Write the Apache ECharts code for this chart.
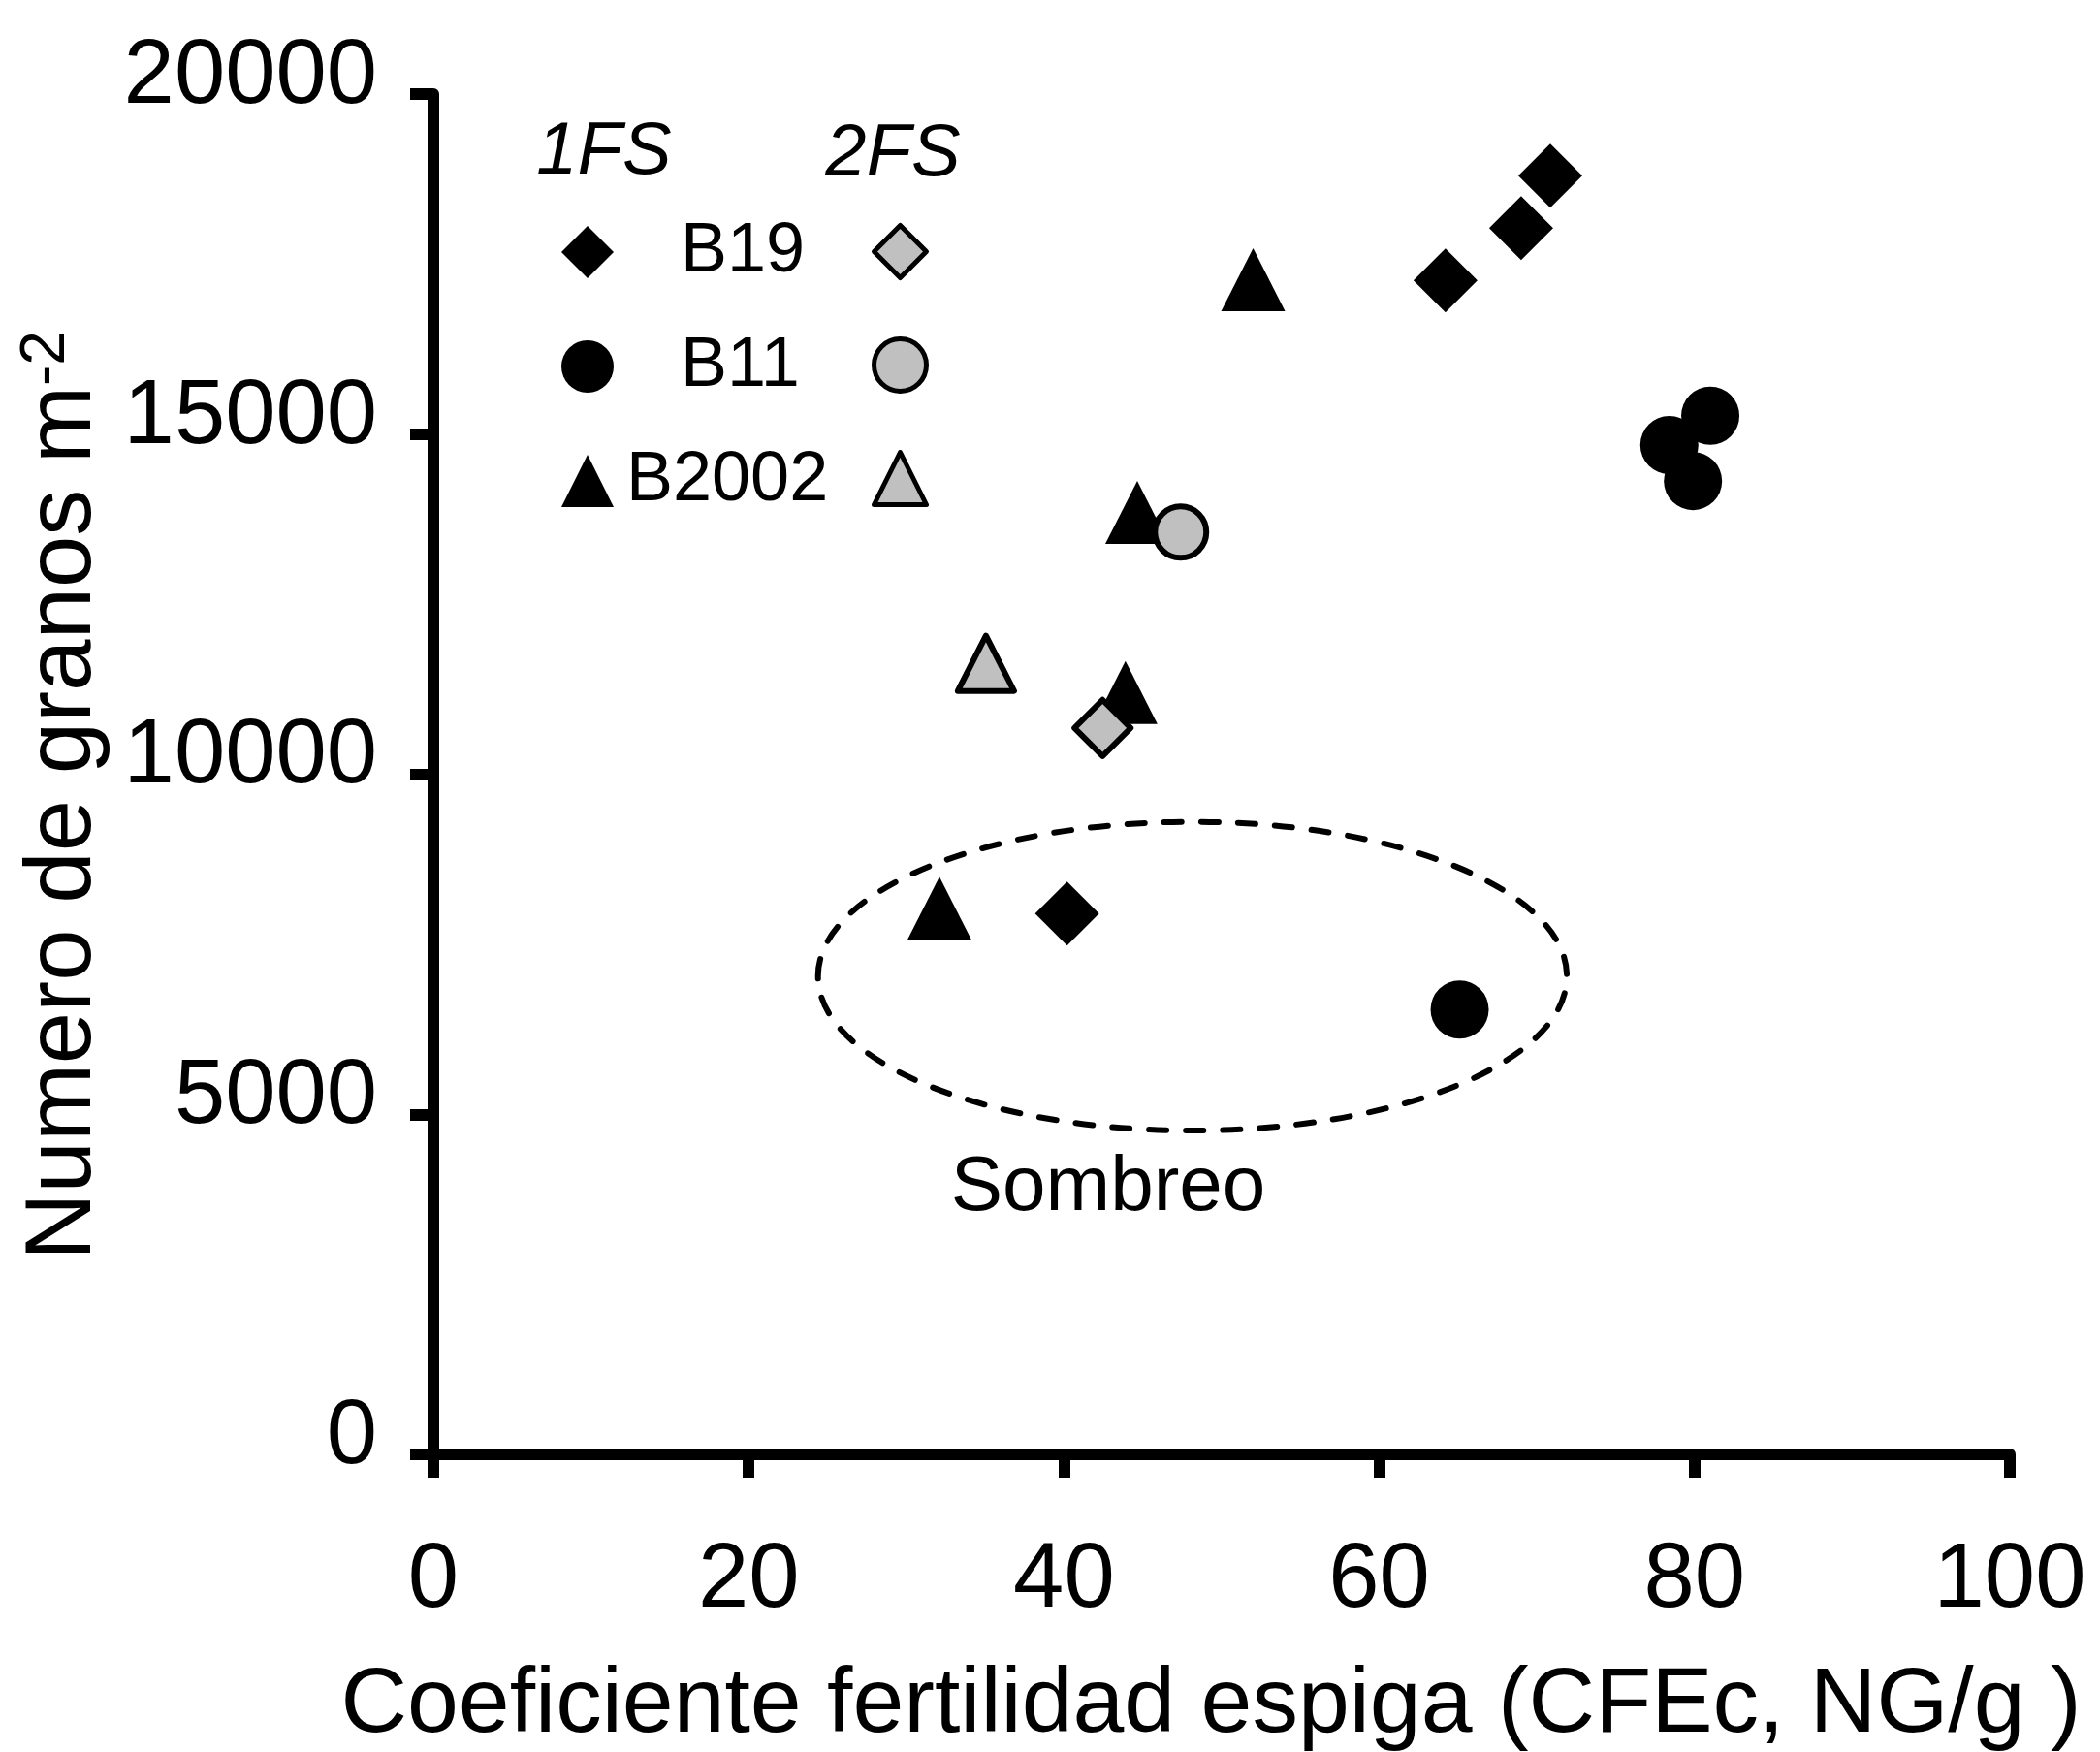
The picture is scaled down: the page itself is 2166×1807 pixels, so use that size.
<!DOCTYPE html>
<html>
<head>
<meta charset="utf-8">
<title>Numero de granos vs CFEc</title>
<script src="https://cdn.jsdelivr.net/npm/echarts@6/dist/echarts.min.js"></script>
<style>
  html, body { margin: 0; padding: 0; background: #ffffff; }
  #main { width: 2166px; height: 1807px; }
</style>
</head>
<body>
<div id="main"></div>
<script type="text/javascript">

  // points: [CFEc (NG/g), granos m-2]
  var b19_1fs   = [[70.85, 18800], [69.0, 18030], [64.2, 17260], [40.2, 7950]];
  var b11_1fs   = [[81.0, 15270], [78.4, 14840], [79.9, 14310], [65.1, 6540]];
  var b2002_1fs = [[52.0, 17270], [44.65, 13850], [43.9, 11200], [32.1, 8030]];
  var b19_2fs   = [[42.45, 10680]];
  var b11_2fs   = [[47.4, 13560]];
  var b2002_2fs = [[35.05, 11630]];

  // dashed "Sombreo" ellipse: centre x, centre y, radius x, radius y (data units)
  var sombreo = [[48.15, 7030, 23.75, 2270]];

  var xTicks = [0, 20, 40, 60, 80, 100];
  var yTicks = [0, 5000, 10000, 15000, 20000];

  var FONT = '"Liberation Sans", Arial, sans-serif';
  var GREY = '#c0c0c0';

  var chart = echarts.init(document.getElementById('main'), null, {renderer: 'canvas'});

  function black(name, symbol, size, data) {
    return {
      name: name, type: 'scatter', data: data, symbol: symbol, symbolSize: size,
      itemStyle: {color: '#000000', opacity: 1},
      emphasis: {disabled: true}, z: 3
    };
  }
  function grey(name, symbol, size, data) {
    return {
      name: name, type: 'scatter', data: data, symbol: symbol, symbolSize: size,
      itemStyle: {color: GREY, borderColor: '#000000', borderWidth: 6, borderJoin: 'round', opacity: 1},
      emphasis: {disabled: true}, z: 4
    };
  }

  var option = {
    animation: false,
    backgroundColor: '#ffffff',
    textStyle: {fontFamily: FONT, color: '#000000'},
    grid: {left: 447, top: 97, width: 1626, height: 1403, containLabel: false, outerBoundsMode: 'none'},
    xAxis: {
      type: 'value', min: xTicks[0], max: xTicks[xTicks.length - 1], interval: 20,
      name: 'Coeficiente fertilidad espiga (CFEc, NG/g )',
      nameLocation: 'middle', nameGap: 212,
      nameTextStyle: {fontSize: 95, fontFamily: FONT, color: '#000', lineHeight: 95, padding: [0, 22, 0, 0]},
      axisLine: {show: true, lineStyle: {color: '#000', width: 12}},
      axisTick: {show: true, inside: false, length: 24, lineStyle: {color: '#000', width: 12}},
      axisLabel: {fontSize: 94, fontFamily: FONT, color: '#000', margin: 84, lineHeight: 94},
      splitLine: {show: false}
    },
    yAxis: {
      type: 'value', min: yTicks[0], max: yTicks[yTicks.length - 1], interval: 5000,
      name: 'Numero de granos m{sup|-2}',
      nameLocation: 'middle', nameRotate: 90, nameGap: 262,
      nameTextStyle: {
        fontSize: 96, fontFamily: FONT, color: '#000', lineHeight: 100, padding: [0, 44, 0, 0],
        rich: {sup: {fontSize: 64, fontFamily: FONT, color: '#000', lineHeight: 56, verticalAlign: 'top'}}
      },
      axisLine: {show: true, lineStyle: {color: '#000', width: 12}},
      axisTick: {show: true, inside: false, length: 24, lineStyle: {color: '#000', width: 12}},
      axisLabel: {
        fontSize: 94, fontFamily: FONT, color: '#000', margin: 58,
        verticalAlign: 'bottom', lineHeight: 34,
        formatter: function (v) { return String(v); }
      },
      splitLine: {show: false}
    },
    legend: [
      {
        data: ['B19 1FS', 'B11 1FS', 'B2002 1FS'],
        orient: 'vertical', left: 579, top: 224, padding: 0,
        itemWidth: 54, itemHeight: 54, itemGap: 46, selectedMode: false,
        formatter: function (name) {
          var n = name.split(' ')[0];
          return n === 'B2002' ? '{b|' + n + '}' : '{a|' + n + '}';
        },
        textStyle: {
          fontSize: 72, fontFamily: FONT, color: '#000', lineHeight: 54,
          rich: {
            a: {fontSize: 72, fontFamily: FONT, color: '#000', lineHeight: 54, padding: [0, 0, 0, 64]},
            b: {fontSize: 72, fontFamily: FONT, color: '#000', lineHeight: 54, padding: [0, 0, 0, 8]}
          }
        }
      },
      {
        data: ['B19 2FS', 'B11 2FS', 'B2002 2FS'],
        orient: 'vertical', left: 899, top: 230, padding: 0,
        itemWidth: 54, itemHeight: 54, itemGap: 58, selectedMode: false,
        itemStyle: {borderColor: '#000', borderWidth: 5, borderJoin: 'round'},
        formatter: function () { return ''; },
        textStyle: {fontSize: 10, lineHeight: 10}
      }
    ],
    graphic: [
      {type: 'text', x: 623, y: 158, z: 10,
       style: {text: '1FS', font: 'italic 76px ' + FONT, fill: '#000',
               align: 'center', verticalAlign: 'middle', textAlign: 'center', textVerticalAlign: 'middle'}},
      {type: 'text', x: 921, y: 160, z: 10,
       style: {text: '2FS', font: 'italic 76px ' + FONT, fill: '#000',
               align: 'center', verticalAlign: 'middle', textAlign: 'center', textVerticalAlign: 'middle'}},
      {type: 'text', x: 1143, y: 1226, z: 10,
       style: {text: 'Sombreo', font: '80px ' + FONT, fill: '#000',
               align: 'center', verticalAlign: 'middle', textAlign: 'center', textVerticalAlign: 'middle'}}
    ],
    series: [
      {
        name: 'Sombreo', type: 'custom', data: sombreo, z: 1, silent: true,
        encode: {x: 0, y: 1},
        renderItem: function (params, api) {
          var c = api.coord([api.value(0), api.value(1)]);
          var r = api.size([api.value(2), api.value(3)]);
          return {
            type: 'ellipse',
            shape: {cx: c[0], cy: c[1], rx: r[0], ry: r[1]},
            style: {fill: 'none', stroke: '#000', lineWidth: 6, lineDash: [18, 20], lineCap: 'round'}
          };
        }
      },
      black('B19 1FS', 'diamond', 66, b19_1fs),
      black('B11 1FS', 'circle', 60, b11_1fs),
      black('B2002 1FS', 'triangle', [66, 65], b2002_1fs),
      grey('B19 2FS', 'diamond', 58, b19_2fs),
      grey('B11 2FS', 'circle', 53, b11_2fs),
      grey('B2002 2FS', 'triangle', [58, 57], b2002_2fs)
    ]
  };

  chart.setOption(option);
</script>
</body>
</html>
